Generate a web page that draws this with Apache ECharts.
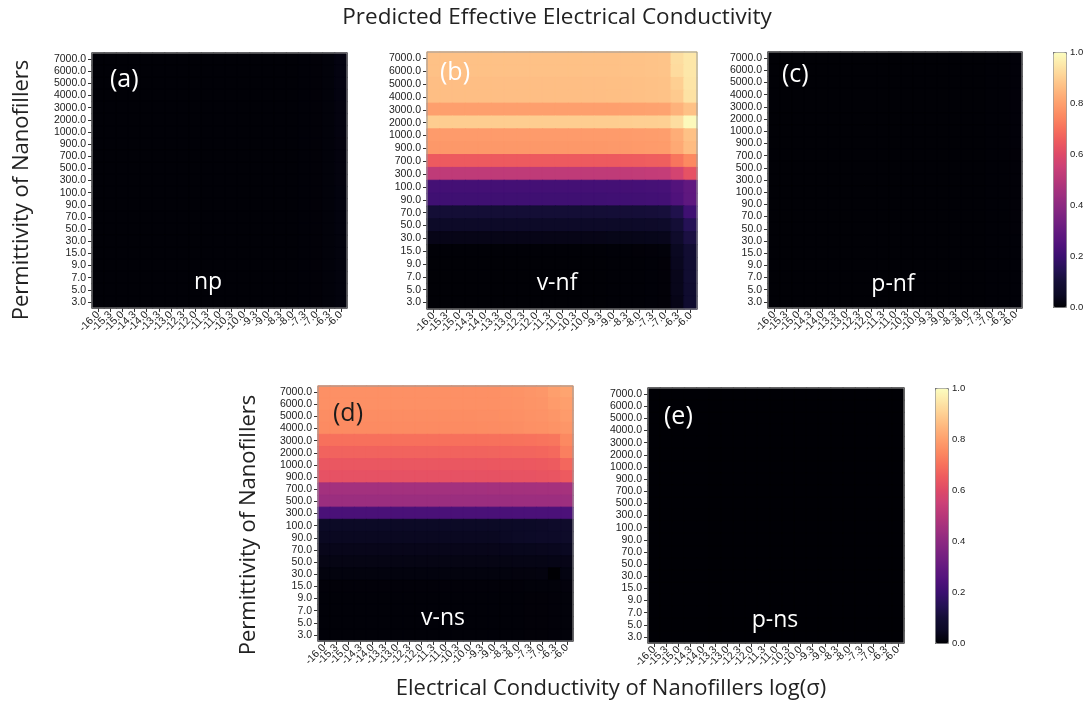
<!DOCTYPE html>
<html>
<head>
<meta charset="utf-8">
<script src="https://cdn.jsdelivr.net/npm/echarts@6/dist/echarts.min.js"></script>
<style>html,body{margin:0;padding:0;background:#fff;}#c{width:1092px;height:706px;}</style>
</head>
<body>
<div id="c"></div>
<script>
// ---------- categories / tick labels ----------
const xLabels = ['-16.0','-15.3','-15.0','-14.3','-14.0','-13.3','-13.0','-12.3','-12.0','-11.3','-11.0','-10.3','-10.0','-9.3','-9.0','-8.3','-8.0','-7.3','-7.0','-6.3','-6.0'];
const yLabelsFull = ['3.0','5.0','7.0','9.0','15.0','30.0','50.0','70.0','90.0','100.0','300.0','500.0','700.0','900.0','1000.0','2000.0','3000.0','4000.0','5000.0','6000.0','7000.0'];
const yLabelsVnf = ['3.0','5.0','7.0','9.0','15.0','30.0','50.0','70.0','90.0','100.0','300.0','700.0','900.0','1000.0','2000.0','3000.0','4000.0','5000.0','6000.0','7000.0'];
const colorbarTicks = [0.0, 0.2, 0.4, 0.6, 0.8, 1.0];

// ---------- values: rows listed from top (7000.0) to bottom (3.0) ----------
const npRows = [
[0.005,0.005,0.005,0.005,0.005,0.005,0.005,0.005,0.005,0.005,0.005,0.005,0.005,0.005,0.005,0.005,0.005,0.006,0.007,0.010,0.018],
[0.005,0.005,0.005,0.005,0.005,0.005,0.005,0.005,0.005,0.005,0.005,0.005,0.005,0.005,0.005,0.005,0.005,0.006,0.007,0.010,0.018],
[0.005,0.005,0.005,0.005,0.005,0.005,0.005,0.005,0.005,0.005,0.005,0.005,0.005,0.005,0.005,0.005,0.005,0.006,0.007,0.010,0.018],
[0.005,0.005,0.005,0.005,0.005,0.005,0.005,0.005,0.005,0.005,0.005,0.005,0.005,0.005,0.005,0.005,0.005,0.006,0.007,0.010,0.018],
[0.005,0.005,0.005,0.005,0.005,0.005,0.005,0.005,0.005,0.005,0.005,0.005,0.005,0.005,0.005,0.005,0.005,0.006,0.007,0.010,0.017],
[0.005,0.005,0.005,0.005,0.005,0.005,0.005,0.005,0.005,0.005,0.005,0.005,0.005,0.005,0.005,0.005,0.005,0.006,0.007,0.010,0.017],
[0.005,0.005,0.005,0.005,0.005,0.005,0.005,0.005,0.005,0.005,0.005,0.005,0.005,0.005,0.005,0.005,0.005,0.006,0.007,0.010,0.017],
[0.005,0.005,0.005,0.005,0.005,0.005,0.005,0.005,0.005,0.005,0.005,0.005,0.005,0.005,0.005,0.005,0.005,0.006,0.007,0.010,0.016],
[0.004,0.004,0.004,0.004,0.004,0.004,0.004,0.004,0.004,0.004,0.004,0.004,0.004,0.004,0.004,0.004,0.005,0.006,0.007,0.010,0.016],
[0.004,0.004,0.004,0.004,0.004,0.004,0.004,0.004,0.004,0.004,0.004,0.004,0.004,0.004,0.004,0.004,0.005,0.006,0.007,0.010,0.016],
[0.004,0.004,0.004,0.004,0.004,0.004,0.004,0.004,0.004,0.004,0.004,0.004,0.004,0.004,0.004,0.004,0.005,0.006,0.007,0.010,0.016],
[0.004,0.004,0.004,0.004,0.004,0.004,0.004,0.004,0.004,0.004,0.004,0.004,0.004,0.004,0.004,0.004,0.005,0.006,0.007,0.010,0.015],
[0.004,0.004,0.004,0.004,0.004,0.004,0.004,0.004,0.004,0.004,0.004,0.004,0.004,0.004,0.004,0.004,0.005,0.006,0.007,0.010,0.015],
[0.004,0.004,0.004,0.004,0.004,0.004,0.004,0.004,0.004,0.004,0.004,0.004,0.004,0.004,0.004,0.004,0.005,0.006,0.007,0.010,0.015],
[0.004,0.004,0.004,0.004,0.004,0.004,0.004,0.004,0.004,0.004,0.004,0.004,0.004,0.004,0.004,0.004,0.005,0.006,0.007,0.010,0.015],
[0.004,0.004,0.004,0.004,0.004,0.004,0.004,0.004,0.004,0.004,0.004,0.004,0.004,0.004,0.004,0.004,0.005,0.006,0.007,0.009,0.014],
[0.004,0.004,0.004,0.004,0.004,0.004,0.004,0.004,0.004,0.004,0.004,0.004,0.004,0.004,0.004,0.004,0.005,0.006,0.007,0.009,0.014],
[0.004,0.004,0.004,0.004,0.004,0.004,0.004,0.004,0.004,0.004,0.004,0.004,0.004,0.004,0.004,0.004,0.005,0.006,0.007,0.009,0.014],
[0.004,0.004,0.004,0.004,0.004,0.004,0.004,0.004,0.004,0.004,0.004,0.004,0.004,0.004,0.004,0.004,0.005,0.006,0.007,0.009,0.014],
[0.004,0.004,0.004,0.004,0.004,0.004,0.004,0.004,0.004,0.004,0.004,0.004,0.004,0.004,0.004,0.004,0.005,0.006,0.007,0.009,0.014],
[0.004,0.004,0.004,0.004,0.004,0.004,0.004,0.004,0.004,0.004,0.004,0.004,0.004,0.004,0.004,0.004,0.005,0.006,0.007,0.009,0.014]
];
const vnfRows = [
[0.870,0.870,0.870,0.870,0.870,0.870,0.870,0.870,0.870,0.870,0.870,0.870,0.870,0.870,0.871,0.872,0.873,0.875,0.877,0.930,0.950],
[0.870,0.870,0.870,0.870,0.870,0.870,0.870,0.870,0.870,0.870,0.870,0.870,0.870,0.870,0.871,0.872,0.873,0.875,0.877,0.925,0.950],
[0.865,0.865,0.865,0.865,0.865,0.865,0.865,0.865,0.865,0.865,0.865,0.865,0.865,0.865,0.866,0.867,0.868,0.870,0.872,0.900,0.945],
[0.865,0.865,0.865,0.865,0.865,0.865,0.865,0.865,0.865,0.865,0.865,0.865,0.865,0.865,0.866,0.867,0.868,0.870,0.872,0.890,0.940],
[0.800,0.800,0.800,0.800,0.800,0.800,0.800,0.800,0.800,0.800,0.800,0.800,0.800,0.800,0.801,0.802,0.804,0.806,0.808,0.840,0.870],
[0.895,0.895,0.895,0.895,0.895,0.895,0.895,0.895,0.895,0.895,0.895,0.895,0.895,0.895,0.896,0.897,0.899,0.901,0.903,0.930,0.990],
[0.790,0.790,0.790,0.790,0.790,0.790,0.790,0.790,0.790,0.790,0.790,0.790,0.790,0.790,0.791,0.792,0.794,0.796,0.798,0.830,0.870],
[0.785,0.785,0.785,0.785,0.785,0.785,0.785,0.785,0.785,0.785,0.785,0.785,0.785,0.785,0.786,0.787,0.789,0.791,0.793,0.820,0.860],
[0.650,0.650,0.650,0.650,0.650,0.650,0.650,0.650,0.650,0.650,0.650,0.650,0.650,0.650,0.651,0.653,0.655,0.658,0.662,0.710,0.750],
[0.520,0.520,0.520,0.520,0.520,0.520,0.520,0.520,0.520,0.520,0.520,0.520,0.520,0.520,0.521,0.523,0.525,0.529,0.533,0.570,0.625],
[0.220,0.220,0.220,0.220,0.220,0.220,0.220,0.220,0.220,0.220,0.220,0.220,0.220,0.220,0.221,0.222,0.223,0.225,0.228,0.255,0.290],
[0.210,0.210,0.210,0.210,0.210,0.210,0.210,0.210,0.210,0.210,0.210,0.210,0.210,0.210,0.211,0.212,0.213,0.215,0.218,0.245,0.285],
[0.100,0.100,0.100,0.100,0.100,0.100,0.100,0.100,0.100,0.100,0.100,0.100,0.100,0.100,0.101,0.102,0.103,0.105,0.108,0.135,0.210],
[0.060,0.060,0.060,0.060,0.060,0.060,0.060,0.060,0.060,0.060,0.060,0.060,0.060,0.060,0.061,0.062,0.063,0.064,0.066,0.100,0.150],
[0.030,0.030,0.030,0.030,0.030,0.030,0.030,0.030,0.030,0.030,0.030,0.030,0.030,0.030,0.031,0.032,0.033,0.034,0.036,0.070,0.120],
[0.005,0.005,0.005,0.005,0.005,0.005,0.005,0.005,0.005,0.005,0.005,0.005,0.005,0.005,0.006,0.006,0.007,0.008,0.009,0.045,0.090],
[0.003,0.003,0.003,0.003,0.003,0.003,0.003,0.003,0.003,0.003,0.003,0.003,0.003,0.003,0.004,0.004,0.005,0.006,0.007,0.040,0.085],
[0.003,0.003,0.003,0.003,0.003,0.003,0.003,0.003,0.003,0.003,0.003,0.003,0.003,0.003,0.004,0.004,0.005,0.006,0.007,0.035,0.085],
[0.003,0.003,0.003,0.003,0.003,0.003,0.003,0.003,0.003,0.003,0.003,0.003,0.003,0.003,0.004,0.004,0.005,0.006,0.007,0.035,0.080],
[0.003,0.003,0.003,0.003,0.003,0.003,0.003,0.003,0.003,0.003,0.003,0.003,0.003,0.003,0.004,0.004,0.005,0.006,0.007,0.030,0.080]
];
const pnfRows = [
[0.003,0.003,0.003,0.003,0.003,0.003,0.003,0.003,0.003,0.003,0.003,0.003,0.003,0.003,0.003,0.003,0.003,0.003,0.004,0.005,0.008],
[0.003,0.003,0.003,0.003,0.003,0.003,0.003,0.003,0.003,0.003,0.003,0.003,0.003,0.003,0.003,0.003,0.003,0.003,0.004,0.005,0.008],
[0.003,0.003,0.003,0.003,0.003,0.003,0.003,0.003,0.003,0.003,0.003,0.003,0.003,0.003,0.003,0.003,0.003,0.003,0.004,0.005,0.008],
[0.003,0.003,0.003,0.003,0.003,0.003,0.003,0.003,0.003,0.003,0.003,0.003,0.003,0.003,0.003,0.003,0.003,0.003,0.004,0.005,0.008],
[0.003,0.003,0.003,0.003,0.003,0.003,0.003,0.003,0.003,0.003,0.003,0.003,0.003,0.003,0.003,0.003,0.003,0.003,0.004,0.005,0.008],
[0.003,0.003,0.003,0.003,0.003,0.003,0.003,0.003,0.003,0.003,0.003,0.003,0.003,0.003,0.003,0.003,0.003,0.003,0.004,0.005,0.008],
[0.003,0.003,0.003,0.003,0.003,0.003,0.003,0.003,0.003,0.003,0.003,0.003,0.003,0.003,0.003,0.003,0.003,0.003,0.004,0.005,0.008],
[0.003,0.003,0.003,0.003,0.003,0.003,0.003,0.003,0.003,0.003,0.003,0.003,0.003,0.003,0.003,0.003,0.003,0.003,0.004,0.005,0.008],
[0.003,0.003,0.003,0.003,0.003,0.003,0.003,0.003,0.003,0.003,0.003,0.003,0.003,0.003,0.003,0.003,0.003,0.003,0.004,0.005,0.007],
[0.003,0.003,0.003,0.003,0.003,0.003,0.003,0.003,0.003,0.003,0.003,0.003,0.003,0.003,0.003,0.003,0.003,0.003,0.004,0.005,0.007],
[0.003,0.003,0.003,0.003,0.003,0.003,0.003,0.003,0.003,0.003,0.003,0.003,0.003,0.003,0.003,0.003,0.003,0.003,0.004,0.005,0.007],
[0.003,0.003,0.003,0.003,0.003,0.003,0.003,0.003,0.003,0.003,0.003,0.003,0.003,0.003,0.003,0.003,0.003,0.003,0.004,0.005,0.007],
[0.003,0.003,0.003,0.003,0.003,0.003,0.003,0.003,0.003,0.003,0.003,0.003,0.003,0.003,0.003,0.003,0.003,0.003,0.004,0.005,0.007],
[0.003,0.003,0.003,0.003,0.003,0.003,0.003,0.003,0.003,0.003,0.003,0.003,0.003,0.003,0.003,0.003,0.003,0.003,0.004,0.005,0.007],
[0.003,0.003,0.003,0.003,0.003,0.003,0.003,0.003,0.003,0.003,0.003,0.003,0.003,0.003,0.003,0.003,0.003,0.003,0.004,0.005,0.007],
[0.003,0.003,0.003,0.003,0.003,0.003,0.003,0.003,0.003,0.003,0.003,0.003,0.003,0.003,0.003,0.003,0.003,0.003,0.004,0.005,0.006],
[0.003,0.003,0.003,0.003,0.003,0.003,0.003,0.003,0.003,0.003,0.003,0.003,0.003,0.003,0.003,0.003,0.003,0.003,0.004,0.005,0.006],
[0.003,0.003,0.003,0.003,0.003,0.003,0.003,0.003,0.003,0.003,0.003,0.003,0.003,0.003,0.003,0.003,0.003,0.003,0.004,0.005,0.006],
[0.003,0.003,0.003,0.003,0.003,0.003,0.003,0.003,0.003,0.003,0.003,0.003,0.003,0.003,0.003,0.003,0.003,0.003,0.004,0.005,0.006],
[0.003,0.003,0.003,0.003,0.003,0.003,0.003,0.003,0.003,0.003,0.003,0.003,0.003,0.003,0.003,0.003,0.003,0.003,0.004,0.005,0.006],
[0.003,0.003,0.003,0.003,0.003,0.003,0.003,0.003,0.003,0.003,0.003,0.003,0.003,0.003,0.003,0.003,0.003,0.003,0.004,0.005,0.006]
];
const vnsRows = [
[0.765,0.765,0.765,0.765,0.765,0.765,0.765,0.765,0.765,0.765,0.765,0.765,0.765,0.766,0.767,0.770,0.772,0.778,0.782,0.800,0.810],
[0.765,0.765,0.765,0.765,0.765,0.765,0.765,0.765,0.765,0.765,0.765,0.765,0.765,0.766,0.767,0.769,0.771,0.775,0.778,0.790,0.800],
[0.760,0.760,0.760,0.760,0.760,0.760,0.760,0.760,0.760,0.760,0.760,0.760,0.760,0.761,0.762,0.764,0.766,0.770,0.773,0.780,0.790],
[0.755,0.755,0.755,0.755,0.755,0.755,0.755,0.755,0.755,0.755,0.755,0.755,0.755,0.756,0.757,0.759,0.761,0.765,0.768,0.772,0.780],
[0.700,0.700,0.700,0.700,0.700,0.700,0.700,0.700,0.700,0.700,0.700,0.700,0.700,0.701,0.702,0.703,0.704,0.705,0.708,0.712,0.750],
[0.670,0.670,0.670,0.670,0.670,0.670,0.670,0.670,0.670,0.670,0.670,0.670,0.670,0.671,0.672,0.673,0.674,0.675,0.678,0.685,0.730],
[0.640,0.640,0.640,0.640,0.640,0.640,0.640,0.640,0.640,0.640,0.640,0.640,0.640,0.641,0.642,0.643,0.644,0.645,0.648,0.652,0.680],
[0.625,0.625,0.625,0.625,0.625,0.625,0.625,0.625,0.625,0.625,0.625,0.625,0.625,0.626,0.627,0.628,0.629,0.630,0.632,0.635,0.650],
[0.455,0.455,0.455,0.455,0.455,0.455,0.455,0.455,0.455,0.455,0.455,0.455,0.455,0.455,0.456,0.456,0.457,0.457,0.458,0.460,0.462],
[0.435,0.435,0.435,0.435,0.435,0.435,0.435,0.435,0.435,0.435,0.435,0.435,0.435,0.435,0.436,0.436,0.437,0.437,0.438,0.439,0.440],
[0.235,0.235,0.235,0.235,0.235,0.235,0.235,0.235,0.235,0.235,0.235,0.235,0.235,0.235,0.235,0.235,0.236,0.236,0.237,0.237,0.238],
[0.055,0.055,0.055,0.055,0.055,0.055,0.055,0.055,0.055,0.055,0.055,0.055,0.055,0.055,0.056,0.056,0.057,0.058,0.062,0.066,0.070],
[0.045,0.045,0.045,0.045,0.045,0.045,0.045,0.045,0.045,0.045,0.045,0.045,0.045,0.045,0.046,0.050,0.055,0.058,0.060,0.062,0.065],
[0.035,0.035,0.035,0.035,0.035,0.035,0.035,0.035,0.035,0.035,0.035,0.035,0.035,0.035,0.035,0.036,0.037,0.038,0.039,0.040,0.045],
[0.025,0.025,0.025,0.025,0.025,0.025,0.025,0.025,0.025,0.025,0.025,0.025,0.025,0.025,0.025,0.025,0.026,0.026,0.027,0.028,0.030],
[0.015,0.015,0.015,0.015,0.015,0.015,0.015,0.015,0.015,0.015,0.015,0.015,0.015,0.015,0.015,0.015,0.016,0.016,0.017,0.000,0.020],
[0.008,0.008,0.008,0.008,0.008,0.008,0.008,0.008,0.008,0.008,0.008,0.008,0.008,0.008,0.008,0.008,0.008,0.009,0.009,0.010,0.012],
[0.006,0.006,0.006,0.006,0.006,0.006,0.006,0.006,0.006,0.006,0.006,0.006,0.006,0.006,0.006,0.006,0.006,0.007,0.007,0.008,0.010],
[0.006,0.006,0.006,0.006,0.006,0.006,0.006,0.006,0.006,0.006,0.006,0.006,0.006,0.006,0.006,0.006,0.006,0.007,0.007,0.008,0.010],
[0.006,0.006,0.006,0.006,0.006,0.006,0.006,0.006,0.006,0.006,0.006,0.006,0.006,0.006,0.006,0.006,0.006,0.007,0.007,0.008,0.010],
[0.006,0.006,0.006,0.006,0.006,0.006,0.006,0.006,0.006,0.006,0.006,0.006,0.006,0.006,0.006,0.006,0.006,0.007,0.007,0.008,0.010]
];
const pnsRows = [
[0.002,0.002,0.002,0.002,0.002,0.002,0.002,0.002,0.002,0.002,0.002,0.002,0.002,0.002,0.002,0.002,0.002,0.002,0.002,0.002,0.002],
[0.002,0.002,0.002,0.002,0.002,0.002,0.002,0.002,0.002,0.002,0.002,0.002,0.002,0.002,0.002,0.002,0.002,0.002,0.002,0.002,0.002],
[0.002,0.002,0.002,0.002,0.002,0.002,0.002,0.002,0.002,0.002,0.002,0.002,0.002,0.002,0.002,0.002,0.002,0.002,0.002,0.002,0.002],
[0.002,0.002,0.002,0.002,0.002,0.002,0.002,0.002,0.002,0.002,0.002,0.002,0.002,0.002,0.002,0.002,0.002,0.002,0.002,0.002,0.002],
[0.002,0.002,0.002,0.002,0.002,0.002,0.002,0.002,0.002,0.002,0.002,0.002,0.002,0.002,0.002,0.002,0.002,0.002,0.002,0.002,0.002],
[0.002,0.002,0.002,0.002,0.002,0.002,0.002,0.002,0.002,0.002,0.002,0.002,0.002,0.002,0.002,0.002,0.002,0.002,0.002,0.002,0.002],
[0.002,0.002,0.002,0.002,0.002,0.002,0.002,0.002,0.002,0.002,0.002,0.002,0.002,0.002,0.002,0.002,0.002,0.002,0.002,0.002,0.002],
[0.002,0.002,0.002,0.002,0.002,0.002,0.002,0.002,0.002,0.002,0.002,0.002,0.002,0.002,0.002,0.002,0.002,0.002,0.002,0.002,0.002],
[0.002,0.002,0.002,0.002,0.002,0.002,0.002,0.002,0.002,0.002,0.002,0.002,0.002,0.002,0.002,0.002,0.002,0.002,0.002,0.002,0.002],
[0.002,0.002,0.002,0.002,0.002,0.002,0.002,0.002,0.002,0.002,0.002,0.002,0.002,0.002,0.002,0.002,0.002,0.002,0.002,0.002,0.002],
[0.002,0.002,0.002,0.002,0.002,0.002,0.002,0.002,0.002,0.002,0.002,0.002,0.002,0.002,0.002,0.002,0.002,0.002,0.002,0.002,0.002],
[0.002,0.002,0.002,0.002,0.002,0.002,0.002,0.002,0.002,0.002,0.002,0.002,0.002,0.002,0.002,0.002,0.002,0.002,0.002,0.002,0.002],
[0.002,0.002,0.002,0.002,0.002,0.002,0.002,0.002,0.002,0.002,0.002,0.002,0.002,0.002,0.002,0.002,0.002,0.002,0.002,0.002,0.002],
[0.002,0.002,0.002,0.002,0.002,0.002,0.002,0.002,0.002,0.002,0.002,0.002,0.002,0.002,0.002,0.002,0.002,0.002,0.002,0.002,0.002],
[0.002,0.002,0.002,0.002,0.002,0.002,0.002,0.002,0.002,0.002,0.002,0.002,0.002,0.002,0.002,0.002,0.002,0.002,0.002,0.002,0.002],
[0.002,0.002,0.002,0.002,0.002,0.002,0.002,0.002,0.002,0.002,0.002,0.002,0.002,0.002,0.002,0.002,0.002,0.002,0.002,0.002,0.002],
[0.002,0.002,0.002,0.002,0.002,0.002,0.002,0.002,0.002,0.002,0.002,0.002,0.002,0.002,0.002,0.002,0.002,0.002,0.002,0.002,0.002],
[0.002,0.002,0.002,0.002,0.002,0.002,0.002,0.002,0.002,0.002,0.002,0.002,0.002,0.002,0.002,0.002,0.002,0.002,0.002,0.002,0.002],
[0.002,0.002,0.002,0.002,0.002,0.002,0.002,0.002,0.002,0.002,0.002,0.002,0.002,0.002,0.002,0.002,0.002,0.002,0.002,0.002,0.002],
[0.002,0.002,0.002,0.002,0.002,0.002,0.002,0.002,0.002,0.002,0.002,0.002,0.002,0.002,0.002,0.002,0.002,0.002,0.002,0.002,0.002],
[0.002,0.002,0.002,0.002,0.002,0.002,0.002,0.002,0.002,0.002,0.002,0.002,0.002,0.002,0.002,0.002,0.002,0.002,0.002,0.002,0.002]
];

// magma colormap stops
const magma = ['#000004','#0b0924','#140e36','#251255','#3b0f70','#51127c','#641a80','#782281','#8c2981','#a1307e','#b73779','#cb4077','#de4968','#ed5a5f','#f7705c','#fc8961','#fe9f6d','#feb77e','#fecf92','#fde7a9','#fcfdbf'];

// ---------- build ----------
const magmaRgb = magma.map(h => [parseInt(h.slice(1, 3), 16), parseInt(h.slice(3, 5), 16), parseInt(h.slice(5, 7), 16)]);
function cmap(v) {
  const t = Math.max(0, Math.min(1, v)) * (magmaRgb.length - 1);
  const i = Math.min(Math.floor(t), magmaRgb.length - 2), f = t - i;
  const a = magmaRgb[i], b = magmaRgb[i + 1];
  return 'rgb(' + a.map((x, k) => Math.round(x + (b[k] - x) * f)).join(',') + ')';
}
// cell border painted in the cell's own colour, to close anti-aliasing seams
function toCells(rows) {
  const n = rows.length, out = [];
  rows.forEach((row, r) => row.forEach((v, c) => out.push({
    value: [c, n - 1 - r, v],
    itemStyle: {borderColor: cmap(v), borderWidth: 1}
  })));
  return out;
}
const FONT = 'Liberation Sans';
const TFONT = 'Open Sans';
const panels = [
  {rows: npRows,  y: yLabelsFull, grid: {left: 92,  top: 53,  width: 255, height: 255}, tag: '(a)', tagPos: [110, 80],  tagColor: '#fff', name: 'np',   namePos: [208, 282]},
  {rows: vnfRows, y: yLabelsVnf,  grid: {left: 427, top: 52,  width: 270, height: 257}, tag: '(b)', tagPos: [440, 73],  tagColor: '#fff', name: 'v-nf', namePos: [557, 283]},
  {rows: pnfRows, y: yLabelsFull, grid: {left: 768, top: 52,  width: 254, height: 256}, tag: '(c)', tagPos: [782, 75],  tagColor: '#fff', name: 'p-nf', namePos: [893, 284]},
  {rows: vnsRows, y: yLabelsFull, grid: {left: 318, top: 386, width: 255, height: 255}, tag: '(d)', tagPos: [333, 414], tagColor: '#1a1a1a', name: 'v-ns', namePos: [443, 618]},
  {rows: pnsRows, y: yLabelsFull, grid: {left: 648, top: 388, width: 256, height: 255}, tag: '(e)', tagPos: [664, 417], tagColor: '#fff', name: 'p-ns', namePos: [775, 620]}
];
const bars = [
  {left: 1053, top: 52, width: 13, height: 255},
  {left: 935, top: 388, width: 13, height: 255}
];

const grid = [], xAxis = [], yAxis = [], series = [], graphic = [];
panels.forEach((p, i) => {
  grid.push(Object.assign({show: true, borderColor: '#9a9a9a', borderWidth: 1, z: 10, outerBoundsMode: 'none'}, p.grid));
  xAxis.push({type: 'category', gridIndex: i, data: xLabels,
    axisLine: {show: false},
    axisTick: {show: true, alignWithLabel: true, length: 4, lineStyle: {color: '#333'}},
    axisLabel: {interval: 0, rotate: 45, fontSize: 10.5, fontFamily: FONT, color: '#222', margin: 5},
    splitLine: {show: false}});
  yAxis.push({type: 'category', gridIndex: i, data: p.y,
    axisLine: {show: false},
    axisTick: {show: true, alignWithLabel: true, length: 4, lineStyle: {color: '#333'}},
    axisLabel: {interval: 0, fontSize: 10.5, fontFamily: FONT, color: '#222', margin: 6},
    splitLine: {show: false}});
  series.push({type: 'heatmap', xAxisIndex: i, yAxisIndex: i, data: toCells(p.rows),
    emphasis: {disabled: true}, progressive: 0, animation: false});
  graphic.push({type: 'text', z: 100, x: p.tagPos[0], y: p.tagPos[1],
    style: {text: p.tag, fontSize: 25, fontFamily: TFONT, fill: p.tagColor, textAlign: 'left', align: 'left', textVerticalAlign: 'middle', verticalAlign: 'middle'}});
  graphic.push({type: 'text', z: 100, x: p.namePos[0], y: p.namePos[1],
    style: {text: p.name, fontSize: 23, fontFamily: TFONT, fill: '#fff', textAlign: 'center', align: 'center', textVerticalAlign: 'middle', verticalAlign: 'middle'}});
});
// colorbar tick axes
bars.forEach((b, k) => {
  const gi = panels.length + k;
  grid.push(Object.assign({show: false, outerBoundsMode: 'none'}, b));
  xAxis.push({type: 'value', gridIndex: gi, show: false, min: 0, max: 1});
  yAxis.push({type: 'value', gridIndex: gi, position: 'right', min: colorbarTicks[0], max: colorbarTicks[colorbarTicks.length - 1], interval: 0.2,
    axisLine: {show: false}, splitLine: {show: false},
    axisTick: {show: true, length: 3, lineStyle: {color: '#333'}},
    axisLabel: {fontSize: 9.5, fontFamily: FONT, color: '#222', margin: 4, formatter: v => v.toFixed(1)}});
});

// titles
const ctr = {textAlign: 'center', align: 'center', textVerticalAlign: 'middle', verticalAlign: 'middle', fill: '#222', fontFamily: TFONT};
graphic.push({type: 'text', z: 100, x: 557, y: 18, style: Object.assign({text: 'Predicted Effective Electrical Conductivity', fontSize: 22.5}, ctr)});
graphic.push({type: 'text', z: 100, x: 22, y: 190, rotation: Math.PI / 2, style: Object.assign({text: 'Permittivity of Nanofillers', fontSize: 22}, ctr)});
graphic.push({type: 'text', z: 100, x: 249, y: 525, rotation: Math.PI / 2, style: Object.assign({text: 'Permittivity of Nanofillers', fontSize: 22}, ctr)});
graphic.push({type: 'text', z: 100, x: 611, y: 689, style: Object.assign({text: 'Electrical Conductivity of Nanofillers log(σ)', fontSize: 22}, ctr)});

const visualMap = bars.map((b, k) => ({
  type: 'continuous', min: 0, max: 1, calculable: false, orient: 'vertical',
  left: b.left, top: b.top, itemWidth: b.width, itemHeight: b.height,
  padding: 0, text: null, showLabel: false, borderColor: '#888', borderWidth: 1,
  seriesIndex: k === 0 ? [0, 1, 2] : [3, 4],
  inRange: {color: magma}, hoverLink: false
}));

const chart = echarts.init(document.getElementById('c'));
chart.setOption({animation: false, backgroundColor: '#fff', grid, xAxis, yAxis, series, visualMap, graphic});
</script>
</body>
</html>
